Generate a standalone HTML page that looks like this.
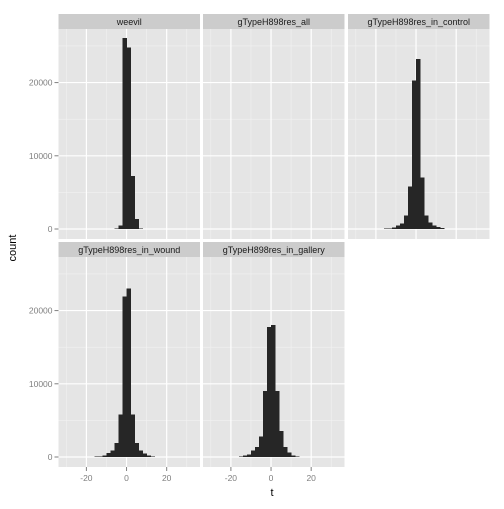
<!DOCTYPE html>
<html><head><meta charset="utf-8"><style>
html,body{margin:0;padding:0;background:#fff;}
svg text{font-family:"Liberation Sans",sans-serif;}
</style></head><body>
<svg id="c" width="504" height="504" xmlns="http://www.w3.org/2000/svg"></svg>
<script>
const panelNames = ["weevil","gTypeH898res_all","gTypeH898res_in_control","gTypeH898res_in_wound","gTypeH898res_in_gallery"];
const binEdges = [-16,-14,-12,-10,-8,-6,-4,-2,0,2,4,6,8,10,12,14];
const weevilCounts   = [0,0,0,0,0,50,450,26100,24770,7240,1370,100,0,0,0];
const allCounts      = [0,0,0,0,0,0,0,0,0,0,0,0,0,0,0];
const controlCounts  = [100,100,200,500,770,1870,5830,20300,23200,7060,1870,900,500,300,140];
const woundCounts    = [50,100,230,550,900,1900,5830,21950,23000,5830,1900,900,450,230,100];
const galleryCounts  = [100,230,360,900,1370,2820,9000,17750,18000,9000,3550,1370,590,230,100];
const allSeries = [weevilCounts,allCounts,controlCounts,woundCounts,galleryCounts];
const xTicks = [-20,0,20];
const xMinor = [-30,-10,10,30];
const yTicks = [0,10000,20000];
const yMinor = [5000,15000,25000];
const xMin=-33.9, xMax=36.6, yMin=-1366, yMax=27320;

const NS="http://www.w3.org/2000/svg";
const svg=document.getElementById('c');
function el(t,a,p){const e=document.createElementNS(NS,t);for(const k in a)e.setAttribute(k,a[k]);(p||svg).appendChild(e);return e;}
const colL=[58.5,203,348], colW=141.5;
const rowTop=[29,257], rowH=210, stripH=15;

for(let i=0;i<panelNames.length;i++){
  const c=i%3, r=Math.floor(i/3);
  const L=colL[c], T=rowTop[r];
  const sx=v=>L+(v-xMin)/(xMax-xMin)*colW;
  const sy=v=>T+rowH-(v-yMin)/(yMax-yMin)*rowH;
  const g=el('g',{});
  
  
  const strip=el('rect',{x:L,y:T-stripH,width:colW,height:stripH,fill:'#cccccc'},g);
  
  
  const st=el('text',{x:L+colW/2,y:T-4,'font-size':9,'text-anchor':'middle',fill:'#1a1a1a'},g);
  st.textContent=panelNames[i];
  
  
  el('rect',{x:L,y:T,width:colW,height:rowH,fill:'#e5e5e5'},g);
  xMinor.forEach(v=>el('line',{x1:sx(v),x2:sx(v),y1:T,y2:T+rowH,stroke:'#f2f2f2','stroke-width':0.6},g));
  yMinor.forEach(v=>el('line',{x1:L,x2:L+colW,y1:sy(v),y2:sy(v),stroke:'#f2f2f2','stroke-width':0.6},g));
  xTicks.forEach(v=>el('line',{x1:sx(v),x2:sx(v),y1:T,y2:T+rowH,stroke:'#fff','stroke-width':1.2},g));
  yTicks.forEach(v=>el('line',{x1:L,x2:L+colW,y1:sy(v),y2:sy(v),stroke:'#fff','stroke-width':1.2},g));
  const counts=allSeries[i];
  for(let b=0;b<counts.length;b++){
    if(counts[b]<=0)continue;
    const x0=sx(binEdges[b]), x1=sx(binEdges[b+1]);
    const bar=el('rect',{x:x0,y:sy(counts[b]),width:x1-x0+0.3,height:sy(0)-sy(counts[b]),fill:'#262626','shape-rendering':'crispEdges'},g);
    
    
  }
  if(c===0){
    yTicks.forEach(v=>{
      el('line',{x1:L-4,x2:L,y1:sy(v),y2:sy(v),stroke:'#7f7f7f','stroke-width':1},g);
      const t=el('text',{x:L-6,y:sy(v)+3,'font-size':8.5,'text-anchor':'end',fill:'#7f7f7f'},g);
      t.textContent=v;
      
      
    });
  }
  if(r===1){
    xTicks.forEach(v=>{
      el('line',{x1:sx(v),x2:sx(v),y1:T+rowH,y2:T+rowH+4,stroke:'#7f7f7f','stroke-width':1},g);
      const t=el('text',{x:sx(v),y:T+rowH+14,'font-size':8.5,'text-anchor':'middle',fill:'#7f7f7f'},g);
      t.textContent=v;
      
      
    });
  }
}
const xt=el('text',{x:272,y:496,'font-size':11,'text-anchor':'middle',fill:'#000'});
xt.textContent='t';


const yt=el('text',{x:16,y:248,'font-size':11,'text-anchor':'middle',fill:'#000',transform:'rotate(-90 16 248)'});
yt.textContent='count';


</script>
</body></html>
